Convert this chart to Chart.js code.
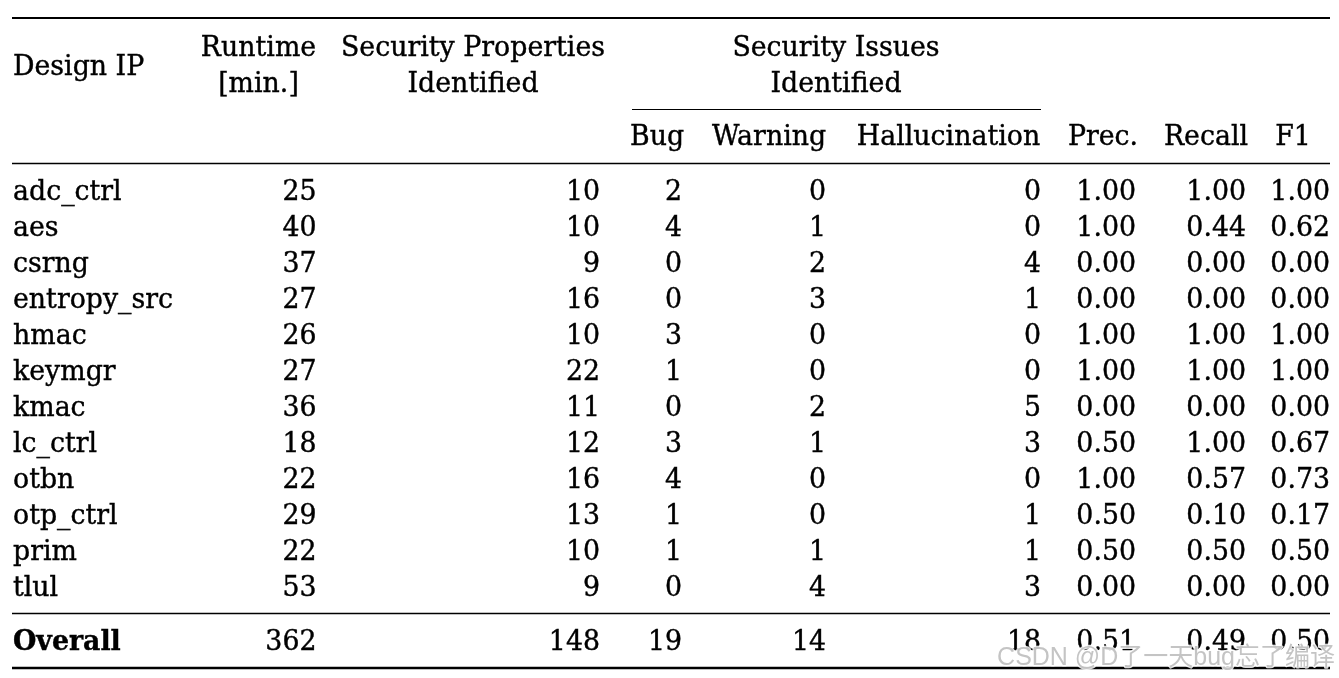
<!DOCTYPE html>
<html>
<head>
<meta charset="utf-8">
<script src="https://cdn.jsdelivr.net/npm/chart.js@4.4.1/dist/chart.umd.min.js"></script>
<style>
  html, body { margin: 0; padding: 0; background: #fff; }
  #wrap { width: 1339px; height: 678px; }
</style>
</head>
<body>
<div id="wrap"><canvas id="resultsTable"></canvas></div>
<script>
// ---------------------------------------------------------------- table data
const designIPs = ['adc_ctrl', 'aes', 'csrng', 'entropy_src', 'hmac', 'keymgr',
                   'kmac', 'lc_ctrl', 'otbn', 'otp_ctrl', 'prim', 'tlul'];
const runtimeMin      = [25, 40, 37, 27, 26, 27, 36, 18, 22, 29, 22, 53];
const propsIdentified = [10, 10, 9, 16, 10, 22, 11, 12, 16, 13, 10, 9];
const bugs            = [2, 4, 0, 0, 3, 1, 0, 3, 4, 1, 1, 0];
const warnings        = [0, 1, 2, 3, 0, 0, 2, 1, 0, 0, 1, 4];
const hallucinations  = [0, 0, 4, 1, 0, 0, 5, 3, 0, 1, 1, 3];
const precision       = [1.00, 1.00, 0.00, 0.00, 1.00, 1.00, 0.00, 0.50, 1.00, 0.50, 0.50, 0.00];
const recall          = [1.00, 0.44, 0.00, 0.00, 1.00, 1.00, 0.00, 1.00, 0.57, 0.10, 0.50, 0.00];
const f1Score         = [1.00, 0.62, 0.00, 0.00, 1.00, 1.00, 0.00, 0.67, 0.73, 0.17, 0.50, 0.00];

const overallLabel = 'Overall';
const overallRow   = [362, 148, 19, 14, 18, 0.51, 0.49, 0.50];

const watermark = 'CSDN @D了一天bug忘了编译';

// ---------------------------------------------------------------- layout
const FONT = '"DejaVu Serif", serif';
const FONT_SIZE = 26.8;
const TEXT_STRETCH = 1.04;    // serif in the original is a bit taller
const ROW_STEP = 36;          // px per row unit
const FIRST_ROW_PX = 200;     // baseline of first data row
const OVERALL_ROW = 12.5;     // overall row sits after a rule

// right edge of each numeric column (x-scale units = px)
const numericCols = [
  { right: 316.5, values: runtimeMin,      fmt: v => String(v) },
  { right: 600,   values: propsIdentified, fmt: v => String(v) },
  { right: 682,   values: bugs,            fmt: v => String(v) },
  { right: 826,   values: warnings,        fmt: v => String(v) },
  { right: 1041,  values: hallucinations,  fmt: v => String(v) },
  { right: 1136,  values: precision,       fmt: v => v.toFixed(2) },
  { right: 1246,  values: recall,          fmt: v => v.toFixed(2) },
  { right: 1330,  values: f1Score,         fmt: v => v.toFixed(2) }
];

// header cells: text, x centre, row (y-scale units)
const headerCells = [
  { text: 'Design IP',           x: 13,    row: -3.47, align: 'left' },
  { text: 'Runtime',             x: 258.5, row: -4.0 },
  { text: '[min.]',              x: 258.5, row: -3.0 },
  { text: 'Security Properties', x: 473,   row: -4.0 },
  { text: 'Identified',          x: 473,   row: -3.0 },
  { text: 'Security Issues',     x: 836,   row: -4.0 },
  { text: 'Identified',          x: 836,   row: -3.0 },
  { text: 'Bug',                 x: 657,   row: -1.53 },
  { text: 'Warning',             x: 769,   row: -1.53 },
  { text: 'Hallucination',       x: 948.5, row: -1.53 },
  { text: 'Prec.',               x: 1103,  row: -1.53 },
  { text: 'Recall',              x: 1206,  row: -1.53 },
  { text: 'F1',                  x: 1293,  row: -1.53 }
];

// booktabs style rules
const rules = [
  { from: 12,  to: 1330, row: -5.0556, width: 2.2 },  // toprule
  { from: 632, to: 1041, row: -2.514,  width: 1.1 },  // cmidrule
  { from: 12,  to: 1330, row: -1.0139, width: 1.4 },  // midrule
  { from: 12,  to: 1330, row: 11.486,  width: 1.4 },  // midrule before overall
  { from: 12,  to: 1330, row: 13.0,    width: 2.4 }   // bottomrule
];

const yMin = -FIRST_ROW_PX / ROW_STEP;
const yMax = yMin + 678 / ROW_STEP;

// one invisible point per cell, text is drawn at the point position
function makeDatasets() {
  const sets = [];
  sets.push({
    label: 'Design IP',
    align: 'left',
    bold: designIPs.map(() => false).concat([true]),
    texts: designIPs.concat([overallLabel]),
    data: designIPs.map((_, i) => ({ x: 13, y: i })).concat([{ x: 13, y: OVERALL_ROW }])
  });
  numericCols.forEach((col, c) => {
    sets.push({
      label: 'col' + c,
      align: 'right',
      bold: col.values.map(() => false).concat([false]),
      texts: col.values.map(col.fmt).concat([col.fmt(overallRow[c])]),
      data: col.values.map((_, i) => ({ x: col.right, y: i }))
              .concat([{ x: col.right, y: OVERALL_ROW }])
    });
  });
  return sets;
}

function drawText(ctx, text, x, y) {
  ctx.save();
  ctx.translate(x, y);
  ctx.scale(1, TEXT_STRETCH);
  ctx.fillText(text, 0, 0);
  ctx.strokeText(text, 0, 0);
  ctx.restore();
}

const tablePlugin = {
  id: 'tablePlugin',
  afterDatasetsDraw(chart) {
    const ctx = chart.ctx;
    const xs = chart.scales.x;
    const ys = chart.scales.y;
    ctx.save();
    ctx.fillStyle = '#000';
    ctx.textBaseline = 'alphabetic';

    // rules
    ctx.strokeStyle = '#000';
    rules.forEach(r => {
      const y = ys.getPixelForValue(r.row);
      ctx.lineWidth = r.width;
      ctx.beginPath();
      ctx.moveTo(xs.getPixelForValue(r.from), y);
      ctx.lineTo(xs.getPixelForValue(r.to), y);
      ctx.stroke();
    });

    // header
    ctx.lineWidth = 0.4;
    ctx.font = FONT_SIZE + 'px ' + FONT;
    headerCells.forEach(h => {
      ctx.textAlign = h.align || 'center';
      drawText(ctx, h.text, xs.getPixelForValue(h.x), ys.getPixelForValue(h.row));
    });

    // body cells
    chart.data.datasets.forEach((ds, d) => {
      const meta = chart.getDatasetMeta(d);
      ctx.textAlign = ds.align;
      meta.data.forEach((pt, i) => {
        ctx.font = (ds.bold[i] ? 'bold ' : '') + FONT_SIZE + 'px ' + FONT;
        drawText(ctx, ds.texts[i], pt.x, pt.y);
      });
    });

    // watermark on top
    ctx.font = '25px "Liberation Sans", "Noto Sans CJK SC", sans-serif';
    ctx.textAlign = 'right';
    ctx.lineJoin = 'round';
    ctx.lineWidth = 2.5;
    ctx.strokeStyle = 'rgba(255,255,255,0.85)';
    const wx = xs.getPixelForValue(1335);
    const wy = ys.getPixelForValue(12.92);
    ctx.strokeText(watermark, wx, wy);
    ctx.fillStyle = 'rgba(190,190,190,0.9)';
    ctx.fillText(watermark, wx, wy);
    ctx.restore();
  }
};

new Chart(document.getElementById('resultsTable').getContext('2d'), {
  type: 'scatter',
  data: { datasets: makeDatasets() },
  options: {
    responsive: true,
    maintainAspectRatio: false,
    animation: false,
    layout: { padding: 0 },
    elements: { point: { radius: 0, hoverRadius: 0 } },
    scales: {
      x: { type: 'linear', min: 0, max: 1339, display: false },
      y: { type: 'linear', min: yMin, max: yMax, reverse: true, display: false }
    },
    plugins: {
      legend: { display: false },
      tooltip: { enabled: false }
    }
  },
  plugins: [tablePlugin]
});
</script>
</body>
</html>
